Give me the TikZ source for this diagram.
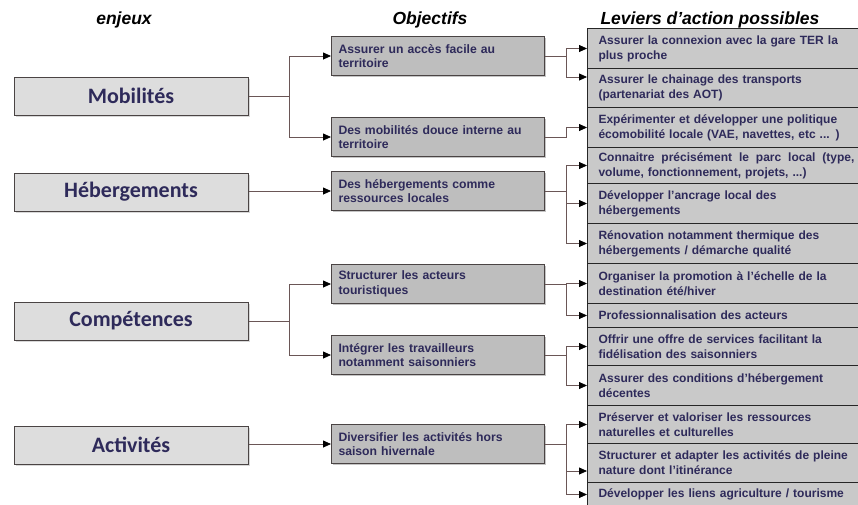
\documentclass[tikz,border=0pt]{standalone}
\usepackage{fontspec}
\setmainfont{Liberation Sans}
\newfontfamily\enjeufont{Carlito}
\usetikzlibrary{arrows.meta, positioning, shadows}
\definecolor{EnjeuFill}{HTML}{DDDDDD}
\definecolor{ObjFill}{HTML}{BEBEBE}
\definecolor{LevFill}{HTML}{C9C9C9}
\definecolor{BoxLine}{HTML}{4A4444}
\definecolor{LinkLine}{HTML}{6A5656}
\definecolor{TextBlue}{HTML}{2E2A5A}

\begin{document}
\begin{tikzpicture}[x=1pt, y=-1pt, >={Triangle[length=8pt, width=7pt, color=black]},
    enjeu/.style={draw=BoxLine, line width=1pt, fill=EnjeuFill, minimum width=234pt, minimum height=38pt, inner sep=0pt, text=TextBlue, font=\enjeufont\bfseries\fontsize{22}{24}\selectfont, drop shadow={shadow xshift=1.5pt, shadow yshift=-1.5pt, fill=black!30}},
    objectif/.style={draw=BoxLine, line width=1pt, fill=ObjFill, anchor=west, minimum width=213pt, minimum height=39pt, text width=199pt, inner xsep=7pt, align=left, text=TextBlue, font=\bfseries\fontsize{12.2}{14.5}\selectfont, drop shadow={shadow xshift=1.5pt, shadow yshift=-1.5pt, fill=black!45}},
    levier/.style={draw=black!85, line width=1pt, fill=LevFill, anchor=north west, minimum width=290pt, text width=268pt, inner xsep=8pt, inner ysep=0pt, align=left, text=TextBlue, font=\bfseries\fontsize{12}{15}\selectfont},
    titre/.style={font=\bfseries\itshape\fontsize{17.5}{19}\selectfont},
    lien/.style={draw=LinkLine, line width=0.8pt}]
    \useasboundingbox (0,0) rectangle (858,504);

    % titres des colonnes
    \node[titre] (tenjeux) at (124,20) {enjeux};
    \node[titre] (tobj) at (430,20) {Objectifs};
    \node[titre, anchor=west] (tlev) at (597,20) {Leviers d’action possibles};

    % enjeux
    \node[enjeu] (mob) at (131,96) {Mobilités};
    \node[enjeu] (heb) at (131,192) {Hébergements};
    \node[enjeu] (comp) at (131,321) {Compétences};
    \node[enjeu] (act) at (131,445) {Activités};

    % objectifs
    \node[objectif] (o1) at (331,56) {Assurer un accès facile au\\ territoire};
    \node[objectif] (o2) at (331,137) {Des mobilités douce interne au\\ territoire};
    \node[objectif] (o3) at (331,191) {Des hébergements comme\\ ressources locales};
    \node[objectif] (o4) at (331,284) {Structurer les acteurs\\ touristiques};
    \node[objectif] (o5) at (331,355) {Intégrer les travailleurs\\ notamment saisonniers};
    \node[objectif] (o6) at (331,444) {Diversifier les activités hors\\ saison hivernale};

    % leviers
    \node[levier, minimum height=40pt] (l1) at (587,28) {Assurer la connexion avec la gare TER la\\ plus proche};
    \node[levier, minimum height=39pt] (l2) at (587,68) {Assurer le chainage des transports\\ (partenariat des AOT)};
    \node[levier, minimum height=40pt] (l3) at (587,107) {Expérimenter et développer une politique\\ écomobilité locale (VAE, navettes, etc ... )};
    \node[levier, minimum height=36pt] (l4) at (587,147) {\makebox[256pt][l]{Connaitre\hfill précisément\hfill le\hfill parc\hfill local\hfill (type,}\\ volume, fonctionnement, projets, ...)};
    \node[levier, minimum height=40pt] (l5) at (587,183) {Développer l’ancrage local des\\ hébergements};
    \node[levier, minimum height=40pt] (l6) at (587,223) {Rénovation notamment thermique des\\ hébergements / démarche qualité};
    \node[levier, minimum height=40pt] (l7) at (587,263) {Organiser la promotion à l’échelle de la\\ destination été/hiver};
    \node[levier, minimum height=24pt] (l8) at (587,303) {Professionnalisation des acteurs};
    \node[levier, minimum height=38pt] (l9) at (587,327) {Offrir une offre de services facilitant la\\ fidélisation des saisonniers};
    \node[levier, minimum height=40pt] (l10) at (587,365) {Assurer des conditions d’hébergement\\ décentes};
    \node[levier, minimum height=38pt] (l11) at (587,405) {Préserver et valoriser les ressources\\ naturelles et culturelles};
    \node[levier, minimum height=39pt] (l12) at (587,443) {Structurer et adapter les activités de pleine\\ nature dont l’itinérance};
    \node[levier, minimum height=24pt] (l13) at (587,482) {Développer les liens agriculture / tourisme};

    % enjeux -> objectifs
    \draw[lien, ->] (mob.east) -- ++(41,0) |- (o1.west);
    \draw[lien, ->] (mob.east) -- ++(41,0) |- (o2.west);
    \draw[lien, ->] (heb.east |- o3.west) -- (o3.west);
    \draw[lien, ->] (comp.east) -- ++(41,0) |- (o4.west);
    \draw[lien, ->] (comp.east) -- ++(41,0) |- (o5.west);
    \draw[lien, ->] (act.east |- o6.west) -- (o6.west);

    % objectifs -> leviers
    \draw[lien, ->] (o1.east) -- ++(21,0) |- (l1.west);
    \draw[lien, ->] (o1.east) -- ++(21,0) |- ([yshift=11pt]l2.west);
    \draw[lien, ->] (o2.east) -- ++(21,0) |- (l3.west);
    \foreach \l in {l4,l5,l6}
      \draw[lien, ->] (o3.east) -- ++(21,0) |- (\l.west);
    \foreach \l in {l7,l8}
      \draw[lien, ->] (o4.east) -- ++(21,0) |- (\l.west);
    \foreach \l in {l9,l10}
      \draw[lien, ->] (o5.east) -- ++(21,0) |- (\l.west);
    \draw[lien, ->] (o6.east) -- ++(21,0) |- (l11.west);
    \draw[lien, ->] (o6.east) -- ++(21,0) |- ([yshift=-8pt]l12.west);
    \draw[lien, ->] (o6.east) -- ++(21,0) |- (l13.west);
\end{tikzpicture}
\end{document}
